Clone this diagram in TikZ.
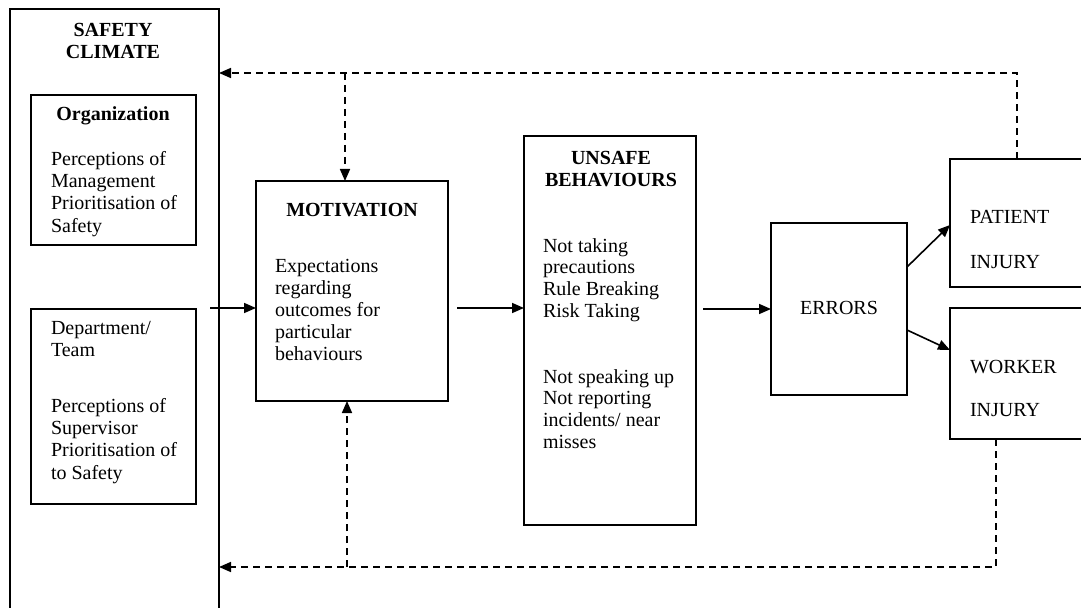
\documentclass[tikz,border=0pt]{standalone}
\usepackage{fontspec}
\setmainfont{Liberation Serif}
\usetikzlibrary{arrows.meta}

\begin{document}
\begin{tikzpicture}[x=1bp, y=-1bp,
  box/.style={draw, line width=1.6bp, inner sep=0pt, outer sep=0pt},
  txt/.style={inner sep=0pt, outer sep=0pt, align=left,
    font=\fontsize{20bp}{22.3bp}\selectfont},
  head/.style={txt, align=center, font=\fontsize{20bp}{22bp}\selectfont\bfseries},
  arr/.style={line width=1.6bp, -{Triangle[length=12bp,width=10bp]}},
  dasharr/.style={arr, dash pattern=on 7bp off 5bp},
]
\useasboundingbox (0,0) rectangle (1081,608);
\clip (0,0) rectangle (1081,608);

% boxes
\node[box, minimum width=209bp, minimum height=621bp] (climate) at (114.5,319.5) {};
\node[box, minimum width=165bp, minimum height=150bp] (org) at (113.5,170) {};
\node[box, minimum width=165bp, minimum height=195bp] (dept) at (113.5,406.5) {};
\node[box, minimum width=192bp, minimum height=220bp] (motiv) at (352,291) {};
\node[box, minimum width=172bp, minimum height=389bp] (unsafe) at (610,330.5) {};
\node[box, minimum width=136bp, minimum height=172bp] (errors) at (839,309) {};
\node[box, minimum width=134bp, minimum height=128bp] (patient) at (1017,223) {};
\node[box, minimum width=134bp, minimum height=131bp] (worker) at (1017,373.5) {};

% texts
\node[head, anchor=north] (tClimate) at (113,23.7) {SAFETY\\CLIMATE};
\node[head, anchor=base] (tOrg) at (113,121) {Organization};
\node[txt, anchor=north west] (tOrgBody) at (51,151.3)
  {Perceptions of\\Management\\Prioritisation of\\Safety};
\node[txt, anchor=north west] (tDept) at (51,321.3) {Department/\\Team};
\node[txt, anchor=north west] (tDeptBody) at (51,398.3)
  {Perceptions of\\Supervisor\\Prioritisation of\\to Safety};
\node[head, anchor=base] (tMotiv) at (352,216.6) {MOTIVATION};
\node[txt, anchor=north west, font=\fontsize{20bp}{22bp}\selectfont] (tMotivBody) at (275,259.3)
  {Expectations\\regarding\\outcomes for\\particular\\behaviours};
\node[head, anchor=north] (tUnsafe) at (611,151.7) {UNSAFE\\BEHAVIOURS};
\node[txt, anchor=north west, font=\fontsize{20bp}{21.8bp}\selectfont] (tUnsafeA) at (543,238.3)
  {Not taking\\precautions\\Rule Breaking\\Risk Taking};
\node[txt, anchor=north west, font=\fontsize{20bp}{21.8bp}\selectfont] (tUnsafeB) at (543,369.3)
  {Not speaking up\\Not reporting\\incidents/ near\\misses};
\node[txt, anchor=base] (tErrors) at (839,314.6) {ERRORS};
\node[txt, anchor=base west] (tPat1) at (970,223.6) {PATIENT};
\node[txt, anchor=base west] (tPat2) at (970,268.6) {INJURY};
\node[txt, anchor=base west] (tWork1) at (970,373.6) {WORKER};
\node[txt, anchor=base west] (tWork2) at (970,416.6) {INJURY};

% main causal chain
\coordinate (inA) at (210,308);
\draw[arr] (inA) -- (inA -| motiv.west);
\draw[arr] ([xshift=9bp]motiv.east |- inA) -- (inA -| unsafe.west);
\draw[arr] ([xshift=7bp]unsafe.east |- errors.west) -- (errors.west);
\draw[arr] ([yshift=-44bp]errors.north east) -- ([yshift=-66bp]patient.north west);
\draw[arr] ([yshift=-107bp]errors.north east) -- ([yshift=-42bp]worker.north west);

% feedback loops
\coordinate (fbTop) at (0,73);
\coordinate (fbBot) at (0,567);
\coordinate (jTop) at (345,73);
\coordinate (jBot) at (347,567);
\draw[dasharr] (patient.north) |- (climate.east |- fbTop);
\draw[dasharr] (jTop) -- (jTop |- motiv.north);
\draw[dasharr] ([xshift=-21bp]worker.south) |- (climate.east |- fbBot);
\draw[dasharr] (jBot) -- (jBot |- motiv.south);
\end{tikzpicture}
\end{document}
